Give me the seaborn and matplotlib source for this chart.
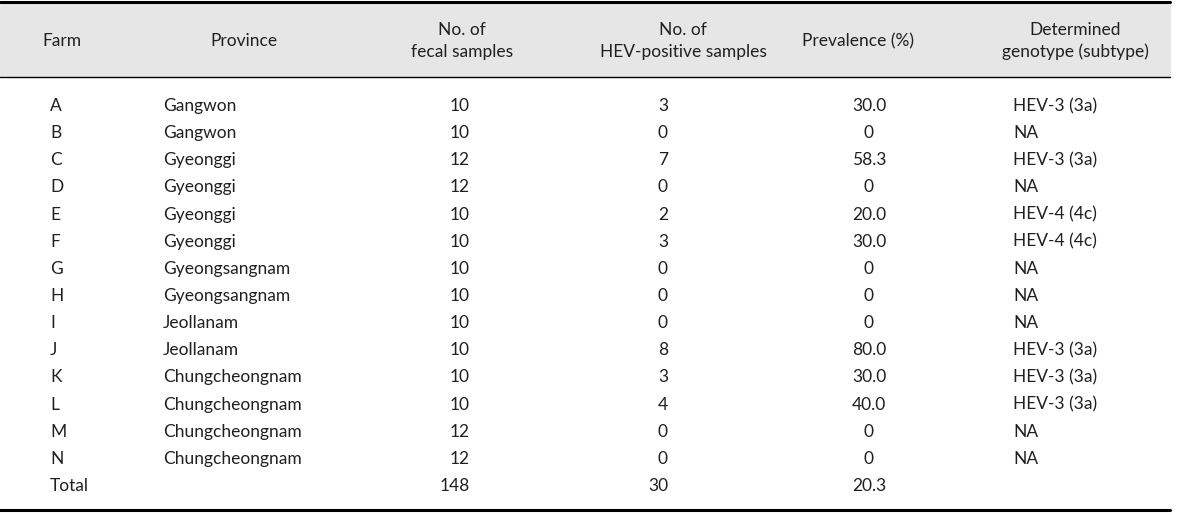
import matplotlib
matplotlib.use('Agg')
import matplotlib.pyplot as plt
import seaborn as sns

# Datos de la tabla (HEV en granjas)
farms = ['A', 'B', 'C', 'D', 'E', 'F', 'G', 'H', 'I', 'J', 'K', 'L', 'M', 'N', 'Total']
provinces = ['Gangwon', 'Gangwon', 'Gyeonggi', 'Gyeonggi', 'Gyeonggi', 'Gyeonggi',
             'Gyeongsangnam', 'Gyeongsangnam', 'Jeollanam', 'Jeollanam',
             'Chungcheongnam', 'Chungcheongnam', 'Chungcheongnam', 'Chungcheongnam', '']
fecal_samples = [10, 10, 12, 12, 10, 10, 10, 10, 10, 10, 10, 10, 12, 12, 148]
positive_samples = [3, 0, 7, 0, 2, 3, 0, 0, 0, 8, 3, 4, 0, 0, 30]
prevalence = ['30.0', '0', '58.3', '0', '20.0', '30.0', '0', '0', '0', '80.0',
              '30.0', '40.0', '0', '0', '20.3']
genotypes = ['HEV-3 (3a)', 'NA', 'HEV-3 (3a)', 'NA', 'HEV-4 (4c)', 'HEV-4 (4c)',
             'NA', 'NA', 'NA', 'HEV-3 (3a)', 'HEV-3 (3a)', 'HEV-3 (3a)', 'NA', 'NA', '']

headers = ['Farm', 'Province', 'No. of\nfecal samples', 'No. of\nHEV-positive samples',
           'Prevalence (%)', 'Determined\ngenotype (subtype)']

sns.set_theme(style='white')
plt.rcParams['font.family'] = ['Lato', 'DejaVu Sans']

fig = plt.figure(figsize=(12, 5.15), dpi=100)
ax = fig.add_axes([0, 0, 1, 1])
ax.set_xlim(0, 1200)
ax.set_ylim(515, 0)
ax.axis('off')

text_color = '#231f20'
fs = 12.5

# Cabecera gris
ax.axhspan(2, 76, xmin=0, xmax=1170 / 1200, color='#e6e6e6', zorder=0)
ax.plot([0, 1170], [2, 2], color='black', lw=2.2)
ax.plot([0, 1170], [76.5, 76.5], color='black', lw=1.0)
ax.plot([0, 1170], [510, 510], color='black', lw=2.2)

header_x = [62, 244, 462, 683, 858, 1075]
for x, h in zip(header_x, headers):
    ax.text(x, 41, h, ha='center', va='center', fontsize=fs, color=text_color,
            linespacing=1.45)

# Filas
y0, dy = 106, 27.14
for i in range(len(farms)):
    y = y0 + i * dy
    ax.text(50, y, farms[i], ha='left', va='center', fontsize=fs, color=text_color)
    ax.text(163, y, provinces[i], ha='left', va='center', fontsize=fs, color=text_color)
    ax.text(470, y, str(fecal_samples[i]), ha='right', va='center', fontsize=fs, color=text_color)
    ax.text(668, y, str(positive_samples[i]), ha='right', va='center', fontsize=fs, color=text_color)
    ax.text(869, y, prevalence[i], ha='center', va='center', fontsize=fs, color=text_color)
    ax.text(1013, y, genotypes[i], ha='left', va='center', fontsize=fs, color=text_color)

plt.savefig('out.png', dpi=100)
plt.close()
